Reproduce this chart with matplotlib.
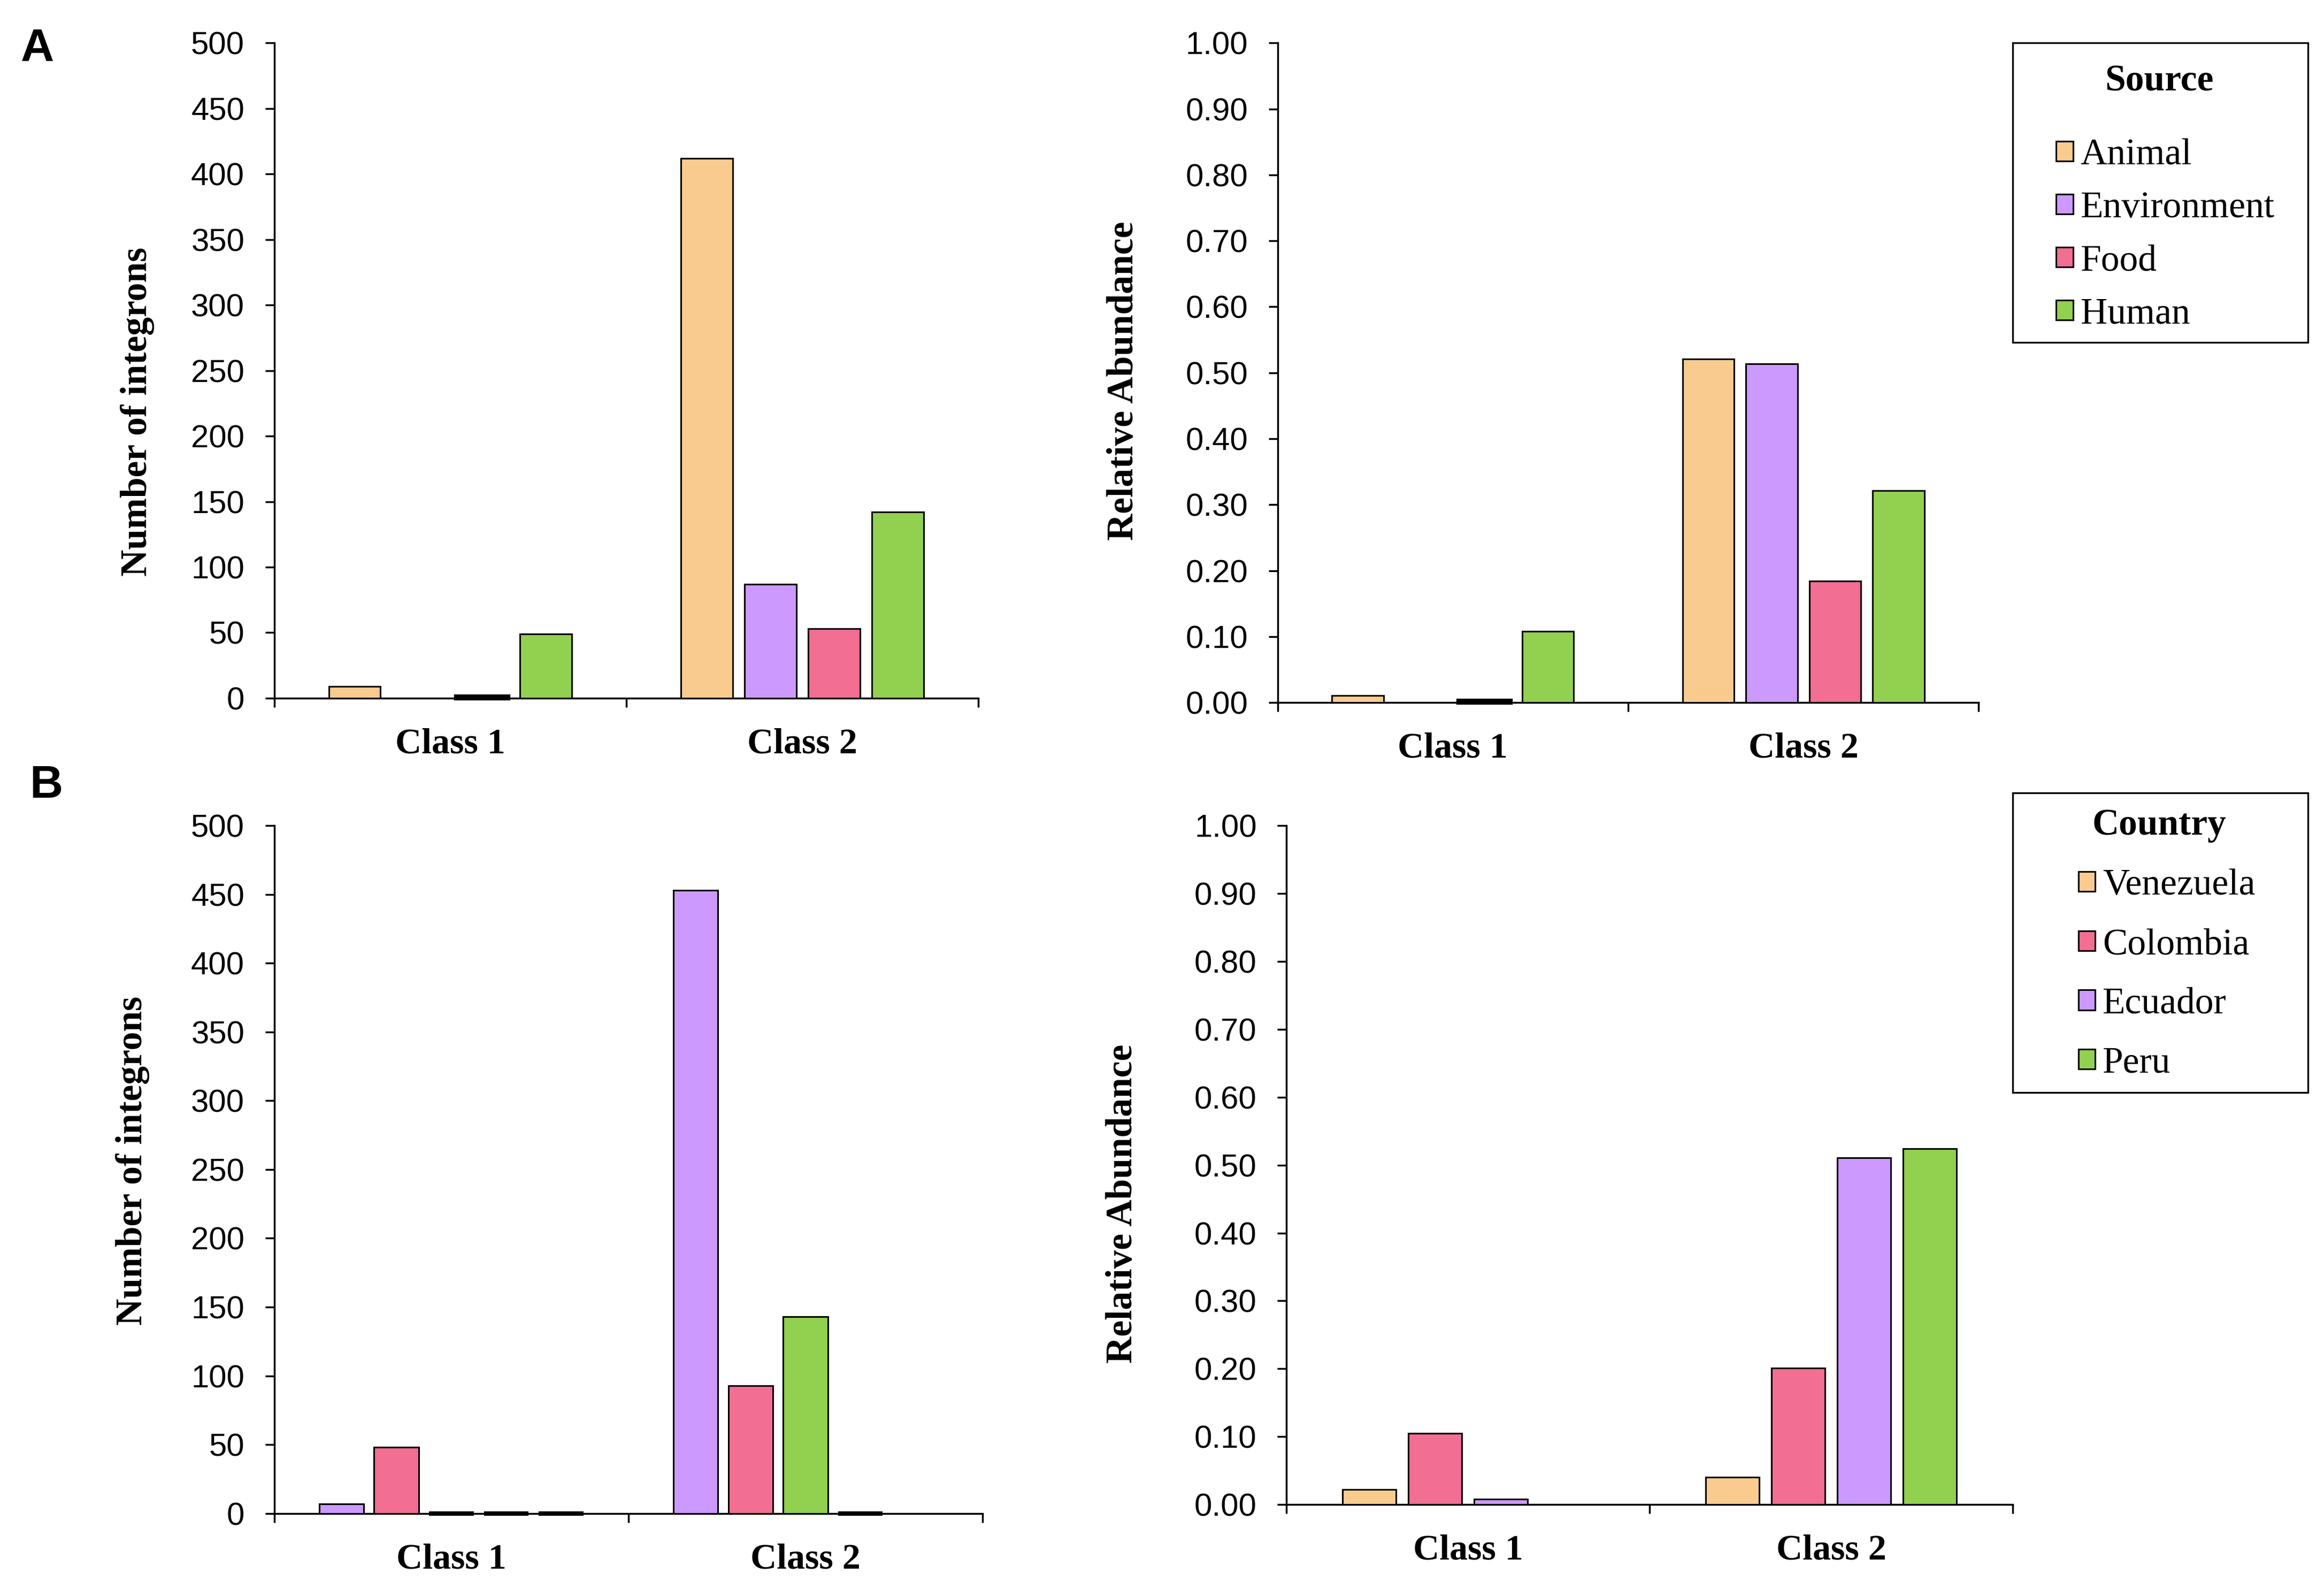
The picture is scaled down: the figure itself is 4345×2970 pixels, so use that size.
import numpy as np
import matplotlib
matplotlib.use("Agg")
import matplotlib.pyplot as plt
from matplotlib.patches import Rectangle, Patch

# ---------------- data ----------------
categories = ["Class 1", "Class 2"]

source_labels = ["Animal", "Environment", "Food", "Human"]
animal_counts = [9, 412]
environment_counts = [np.nan, 87]
food_counts = [1, 53]
human_counts = [49, 142]

animal_abund = [0.011, 0.521]
environment_abund = [np.nan, 0.514]
food_abund = [0.003, 0.184]
human_abund = [0.108, 0.321]

country_labels = ["Venezuela", "Colombia", "Ecuador", "Peru"]
# panel B left: five series drawn in the original (only three visible non-zero)
country_count_s1 = [7, 453]      # purple
country_count_s2 = [48, 93]      # pink
country_count_s3 = [0, 143]      # green
country_count_s4 = [0, 0]
country_count_s5 = [0, np.nan]

venezuela_abund = [0.022, 0.040]
colombia_abund = [0.105, 0.201]
ecuador_abund = [0.008, 0.511]
peru_abund = [np.nan, 0.524]

ORANGE = "#F9CB8F"
PURPLE = "#CC99FF"
PINK = "#F26E93"
GREEN = "#92D050"

SERIF = "Liberation Serif"
SANS = "Liberation Sans"

fig = plt.figure(figsize=(43.45, 29.70), dpi=100)

W, H = 1568.0, 1072.0
def fx(px):
    return px / W
def fy(py):
    return 1 - py / H

def make_ax(x0, x1, ytop, ybot):
    return fig.add_axes([fx(x0), fy(ybot), fx(x1) - fx(x0), fy(ytop) - fy(ybot)])

def draw_bars(ax, series, colors, width, step, ymax):
    n = len(series)
    centers = np.array([0.5, 1.5])
    for i, (vals, col) in enumerate(zip(series, colors)):
        off = (i - (n - 1) / 2.0) * step
        vals = np.asarray(vals, dtype=float)
        for c, v in zip(centers, vals):
            if np.isnan(v):
                continue
            tiny = v < ymax * 0.004
            ax.bar([c + off], [v], width=width, color=col,
                   edgecolor="black", linewidth=6 if tiny else 2.2,
                   clip_on=False, zorder=3)

def style_ax(ax, ymax, ystep, fmt, ylabel, label_xy):
    ax.set_xlim(0, 2)
    ax.set_ylim(0, ymax)
    for s in ["top", "right"]:
        ax.spines[s].set_visible(False)
    for s in ["left", "bottom"]:
        ax.spines[s].set_linewidth(2.5)
        ax.spines[s].set_zorder(2)
    ax.set_xticks([0, 1, 2])
    ax.set_xticklabels([])
    ax.set_xticks([0.5, 1.5], minor=True)
    ax.set_xticklabels(categories, minor=True, fontfamily=SERIF,
                       fontweight="bold", fontsize=49)
    ax.tick_params(axis="x", which="major", direction="out", length=12, width=2.5)
    ax.tick_params(axis="x", which="minor", length=0, pad=40)
    yt = np.arange(0, ymax + ystep / 2, ystep)
    ax.set_yticks(yt)
    ax.set_yticklabels([fmt.format(v) for v in yt], fontfamily=SANS, fontsize=43)
    ax.tick_params(axis="y", direction="out", length=12, width=2.5, pad=28)
    ax.set_ylabel(ylabel, fontfamily=SERIF, fontweight="bold", fontsize=50)
    ax.yaxis.set_label_coords(*label_xy)

def add_legend(labels, colors, title, box, center, title_xy, spacing):
    handles = [Patch(facecolor=c, edgecolor="black", linewidth=2.2) for c in colors]
    fig.legend(handles, labels, loc="center", bbox_to_anchor=center,
               bbox_transform=fig.transFigure, frameon=False,
               prop={"family": SERIF, "size": 50}, handlelength=0.45,
               handleheight=0.45, handletextpad=0.2, labelspacing=spacing,
               borderpad=0, borderaxespad=0)
    x0, y0, x1, y1 = box
    fig.patches.append(Rectangle((fx(x0), fy(y1)), fx(x1) - fx(x0), fy(y0) - fy(y1),
                                 transform=fig.transFigure, fill=False,
                                 edgecolor="black", linewidth=2.4))
    fig.text(fx(title_xy[0]), fy(title_xy[1]), title, ha="center", va="center",
             fontfamily=SERIF, fontweight="bold", fontsize=50)

W4, S4 = 0.147, 0.181
W5, S5 = 0.126, 0.155

# Panel A left
ax1 = make_ax(185, 660, 29, 471)
draw_bars(ax1, [animal_counts, environment_counts, food_counts, human_counts],
          [ORANGE, PURPLE, PINK, GREEN], W4, S4, 500)
style_ax(ax1, 500, 50, "{:.0f}", "Number of integrons", (-0.17, 0.437))

# Panel A right
ax2 = make_ax(862, 1335, 29, 474)
draw_bars(ax2, [animal_abund, environment_abund, food_abund, human_abund],
          [ORANGE, PURPLE, PINK, GREEN], W4, S4, 1.0)
style_ax(ax2, 1.0, 0.1, "{:.2f}", "Relative Abundance", (-0.195, 0.488))

# Panel B left
ax3 = make_ax(185, 663, 557, 1021)
draw_bars(ax3, [country_count_s1, country_count_s2, country_count_s3,
                country_count_s4, country_count_s5],
          [PURPLE, PINK, GREEN, ORANGE, ORANGE], W5, S5, 500)
style_ax(ax3, 500, 50, "{:.0f}", "Number of integrons", (-0.176, 0.513))

# Panel B right
ax4 = make_ax(868, 1358, 557, 1015)
draw_bars(ax4, [venezuela_abund, colombia_abund, ecuador_abund, peru_abund],
          [ORANGE, PINK, PURPLE, GREEN], W4, S4, 1.0)
style_ax(ax4, 1.0, 0.1, "{:.2f}", "Relative Abundance", (-0.202, 0.443))

# Legends
add_legend(source_labels, [ORANGE, PURPLE, PINK, GREEN], "Source",
           (1358, 29, 1557, 231), (fx(1461), fy(158.5)), (1457, 55), 0.51)
add_legend(country_labels, [ORANGE, PINK, PURPLE, GREEN], "Country",
           (1358, 535, 1557, 737), (fx(1462), fy(657.5)), (1457, 557), 0.68)

# Panel letters
fig.text(fx(14), fy(41), "A", fontfamily=SANS, fontweight="bold", fontsize=62,
         ha="left", va="baseline")
fig.text(fx(20), fy(538), "B", fontfamily=SANS, fontweight="bold", fontsize=62,
         ha="left", va="baseline")

fig.savefig("out.png", dpi=100, facecolor="white")
